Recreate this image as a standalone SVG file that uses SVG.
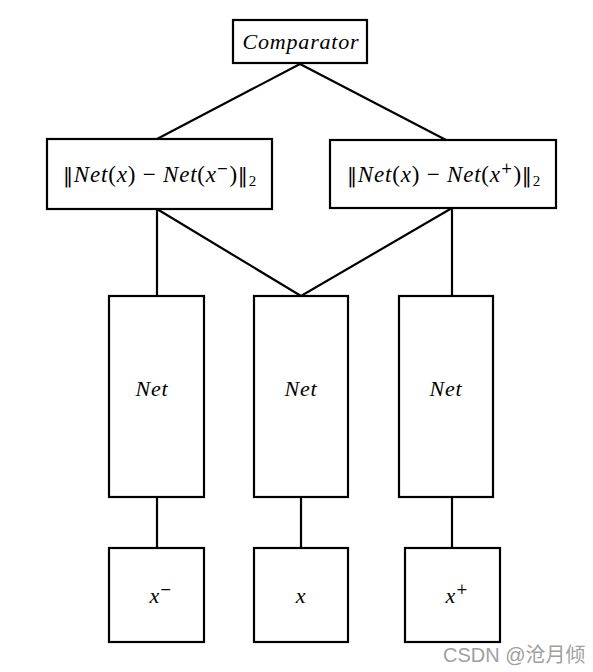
<svg xmlns="http://www.w3.org/2000/svg" width="593" height="672" viewBox="0 0 593 672">
<style>
.box{fill:#fff;stroke:#000;stroke-width:2.2}
.ln{stroke:#000;stroke-width:2.2;fill:none}
.t{font-family:"Liberation Serif","DejaVu Serif",serif;font-size:22px;fill:#000;text-anchor:middle;letter-spacing:0.8px}
.f{font-family:"Liberation Serif","DejaVu Serif",serif;font-size:23px;fill:#000;text-anchor:middle;letter-spacing:0.8px}
.i{font-style:italic}
.n{font-family:"DejaVu Serif",serif;font-size:20px}
.sup{font-family:"DejaVu Serif",serif;font-size:14px}
.wm{font-family:"Liberation Sans","Noto Sans CJK SC",sans-serif;font-size:20px;fill:#a0a0a0}
</style>
<rect width="593" height="672" fill="#fff"/>
<g id="connectors">
<path class="ln" d="M300 64 L157 139 M300 64 L446 140"/>
<path class="ln" d="M157 209 L157 296 M157 209 L301 296 L452 208 M452 208 L452 296"/>
<path class="ln" d="M157 497 L157 548 M301 497 L301 548 M452 497 L452 548"/>
</g>
<g id="comparator">
<rect class="box" x="233" y="20" width="134" height="43"/>
<text class="t i" x="301" y="49">Comparator</text>
</g>
<g id="dist-neg">
<rect class="box" x="47" y="139" width="225" height="70"/>
<text class="f" x="160" y="182"><tspan class="n">‖</tspan><tspan class="i">Net</tspan>(<tspan class="i">x</tspan>) − <tspan class="i">Net</tspan>(<tspan class="i">x</tspan><tspan class="sup" dy="-9">−</tspan><tspan dy="9">)</tspan><tspan class="n">‖</tspan><tspan font-size="15" dy="4">2</tspan></text>
</g>
<g id="dist-pos">
<rect class="box" x="330" y="140" width="226" height="68"/>
<text class="f" x="444" y="182"><tspan class="n">‖</tspan><tspan class="i">Net</tspan>(<tspan class="i">x</tspan>) − <tspan class="i">Net</tspan>(<tspan class="i">x</tspan><tspan class="sup" dy="-9">+</tspan><tspan dy="9">)</tspan><tspan class="n">‖</tspan><tspan font-size="15" dy="4">2</tspan></text>
</g>
<g id="net-neg">
<rect class="box" x="109" y="296" width="95" height="201"/>
<text class="t i" x="152" y="396">Net</text>
</g>
<g id="net-anchor">
<rect class="box" x="254" y="296" width="94" height="201"/>
<text class="t i" x="301" y="396">Net</text>
</g>
<g id="net-pos">
<rect class="box" x="399" y="296" width="94" height="201"/>
<text class="t i" x="446" y="396">Net</text>
</g>
<g id="input-neg">
<rect class="box" x="109" y="548" width="95" height="94"/>
<text class="t" x="161" y="603"><tspan class="i">x</tspan><tspan class="sup" dy="-9">−</tspan></text>
</g>
<g id="input-anchor">
<rect class="box" x="254" y="548" width="94" height="94"/>
<text class="t i" x="301" y="603">x</text>
</g>
<g id="input-pos">
<rect class="box" x="405" y="548" width="95" height="94"/>
<text class="t" x="457" y="603"><tspan class="i">x</tspan><tspan class="sup" dy="-9">+</tspan></text>
</g>
<text class="wm" x="443" y="662">CSDN @沧月倾</text>
</svg>
